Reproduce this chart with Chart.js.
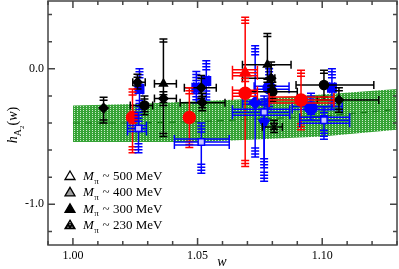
<!DOCTYPE html>
<html><head><meta charset="utf-8">
<script src="https://cdn.jsdelivr.net/npm/chart.js@4/dist/chart.umd.min.js"></script>
<style>html,body{margin:0;padding:0;background:#fff}</style>
</head><body>
<canvas id="c" width="399" height="269"></canvas>
<script>
// ---- tick labels ----
const xTickLabels = [1.00, 1.05, 1.10];
const yTickLabels = [0.0, -1.0];
const legendLabels = ['~ 500 MeV', '~ 400 MeV', '~ 300 MeV', '~ 230 MeV'];

// ---- fit band ----
const bandW   = [1.00, 1.025, 1.05, 1.075, 1.10, 1.13];
const bandHi  = [-0.27, -0.26, -0.24, -0.22, -0.19, -0.15];
const bandMid = [-0.40, -0.40, -0.39, -0.37, -0.35, -0.30];
const bandLo  = [-0.54, -0.54, -0.54, -0.52, -0.50, -0.45];

// ---- black series ----
const blackW   = [1.0123, 1.0363, 1.0363, 1.0259, 1.0287, 1.0515, 1.0519, 1.0780, 1.0795, 1.0800, 1.1007, 1.1067, 1.0807];
const blackH   = [-0.29, -0.11, -0.22, -0.10, -0.27, -0.14, -0.25, 0.03, -0.07, -0.17, -0.12, -0.23, -0.43];
const blackXLo = [1.0123, 1.0327, 1.0327, 1.0240, 1.0230, 1.0447, 1.0430, 1.0680, 1.0680, 1.0700, 1.0895, 1.0980, 1.0760];
const blackXHi = [1.0123, 1.0415, 1.0415, 1.0290, 1.0320, 1.0575, 1.0610, 1.0875, 1.0810, 1.0900, 1.1207, 1.1227, 1.0840];
const blackYLo = [-0.40, -0.50, -0.27, -0.15, -0.34, -0.24, -0.31, -0.10, -0.15, -0.24, -0.23, -0.32, -0.47];
const blackYHi = [-0.21, 0.22, -0.17, -0.04, -0.20, -0.05, -0.18, 0.26, 0.05, -0.10, -0.01, -0.14, -0.38];
const blackShape = ['rectRot','triangle','rectRot','rectRot','circle','rectRot','rectRot','triangle','rectRot','circle','circle','rectRot','crossRot'];

// ---- blue series ----
const blueW   = [1.0267, 1.0535, 1.0495, 1.0787, 1.0731, 1.1039, 1.0955, 1.0767];
const blueH   = [-0.15, -0.09, -0.14, -0.14, -0.25, -0.14, -0.29, -0.40];
const blueXLo = [1.0255, 1.0525, 1.0485, 1.0727, 1.0680, 1.1030, 1.0880, 1.0767];
const blueXHi = [1.0280, 1.0545, 1.0505, 1.0867, 1.0780, 1.1050, 1.1080, 1.0767];
const blueYLo = [-0.30, -0.23, -0.25, -0.30, -0.65, -0.30, -0.38, -0.83];
const blueYHi = [0.00, 0.06, -0.02, 0.00, 0.17, 0.00, -0.18, -0.30];
const blueShape = ['rect','rect','rect','circle','rectRot','rect','circle','triangle'];
const blueRot   = [0, 0, 0, 0, 0, 0, 0, 180];

// ---- light (open) blue squares ----
const lightW   = [1.0263, 1.0515, 1.0767, 1.1007];
const lightH   = [-0.44, -0.54, -0.32, -0.38];
const lightXLo = [1.0219, 1.0407, 1.0640, 1.0910];
const lightXHi = [1.0295, 1.0627, 1.0870, 1.1110];
const lightYLo = [-0.62, -0.77, -0.73, -0.52];
const lightYHi = [-0.32, -0.40, -0.20, -0.28];

// ---- red series ----
const redW   = [1.0239, 1.0467, 1.0691, 1.0691, 1.0915];
const redH   = [-0.36, -0.36, -0.03, -0.18, -0.23];
const redXLo = [1.0230, 1.0467, 1.0640, 1.0640, 1.0787];
const redXHi = [1.0250, 1.0467, 1.0740, 1.0740, 1.1047];
const redYLo = [-0.62, -0.58, -0.20, -0.72, -0.45];
const redYHi = [-0.15, -0.14, 0.38, -0.05, -0.01];
const redShape = ['circle','circle','triangle','circle','circle'];

const SERIF = '"Liberation Serif", "DejaVu Serif", serif';

function pts(W, H) { return W.map((w, i) => ({ x: w, y: H[i] })); }

// band pattern
function makePattern() {
  const pc = document.createElement('canvas');
  pc.width = 3; pc.height = 2;
  const p = pc.getContext('2d');
  p.fillStyle = '#36a336'; p.fillRect(0, 0, 3, 2);
  p.fillStyle = '#c8ebc8'; p.fillRect(2, 0, 1, 1);
  return document.getElementById('c').getContext('2d').createPattern(pc, 'repeat');
}

function series(label, W, H, XL, XH, YL, YH, color, fill, shape, radius, rot, caps, hLines) {
  return {
    type: 'scatter', label, data: pts(W, H),
    backgroundColor: fill, borderColor: color, borderWidth: 1.5,
    pointStyle: shape, pointRadius: radius, pointRotation: rot || 0,
    xLo: XL, xHi: XH, yLo: YL, yHi: YH, errColor: color, caps, hLines, order: 1
  };
}

const datasets = [
  { type: 'line', label: 'bandHi', data: pts(bandW, bandHi), borderWidth: 0, pointRadius: 0,
    fill: '+1', backgroundColor: makePattern(), order: 10 },
  { type: 'line', label: 'bandLo', data: pts(bandW, bandLo), borderWidth: 0, pointRadius: 0, fill: false, order: 10 },
  { type: 'line', label: 'bandMid', data: pts(bandW, bandMid), borderWidth: 1.2, borderColor: '#177a17',
    borderDash: [7, 5], pointRadius: 0, fill: false, order: 9 },
  series('light', lightW, lightH, lightXLo, lightXHi, lightYLo, lightYHi, '#0000ff', '#c4c4ff', 'rect', 4.5, 0, 4, 3),
  series('red', redW, redH, redXLo, redXHi, redYLo, redYHi, '#ff0000', '#ff0000', redShape, 6, 0, 3, 3),
  series('black', blackW, blackH, blackXLo, blackXHi, blackYLo, blackYHi, '#000000', '#000000', blackShape, 4.5, 0, 2, 1),
  series('blue', blueW, blueH, blueXLo, blueXHi, blueYLo, blueYHi, '#0000ff', '#0000ff', blueShape, 6, blueRot, 4, 2),
];

const errPlugin = {
  id: 'err',
  beforeDatasetDraw(chart, args) {
    const ds = chart.data.datasets[args.index];
    if (!ds.xLo) return;
    const { ctx, scales: { x, y } } = chart;
    ctx.save();
    ctx.strokeStyle = ds.errColor; ctx.lineWidth = 1.5;
    ds.data.forEach((p, i) => {
      const px = x.getPixelForValue(p.x), py = y.getPixelForValue(p.y);
      const x0 = x.getPixelForValue(ds.xLo[i]), x1 = x.getPixelForValue(ds.xHi[i]);
      const y0 = y.getPixelForValue(ds.yLo[i]), y1 = y.getPixelForValue(ds.yHi[i]);
      ctx.beginPath();
      ctx.moveTo(px, y0); ctx.lineTo(px, y1);
      for (let k = 0; k < ds.caps; k++) {
        const yb = y0 - k * 3, yt = y1 + k * 3;
        if (yb > py + 2) { ctx.moveTo(px - 4, yb); ctx.lineTo(px + 4, yb); }
        if (yt < py - 2) { ctx.moveTo(px - 4, yt); ctx.lineTo(px + 4, yt); }
      }
      if (x1 - x0 > 2) {
        for (let k = 0; k < ds.hLines; k++) {
          const off = (k - (ds.hLines - 1) / 2) * 3;
          ctx.moveTo(x0, py + off); ctx.lineTo(x1, py + off);
        }
        const hh = 4 + (ds.hLines - 1) * 1.5;
        ctx.moveTo(x0, py - hh); ctx.lineTo(x0, py + hh);
        ctx.moveTo(x1, py - hh); ctx.lineTo(x1, py + hh);
      }
      ctx.stroke();
    });
    ctx.restore();
  }
};

const framePlugin = {
  id: 'frame',
  afterDatasetsDraw(chart) {
    const { ctx, chartArea: a, scales: { x, y } } = chart;
    ctx.save();
    ctx.strokeStyle = '#444'; ctx.lineWidth = 1.5;
    ctx.strokeRect(a.left, a.top, a.right - a.left, a.bottom - a.top);
    ctx.beginPath();
    for (let k = 99; k <= 113; k++) {
      const v = k / 100, px = x.getPixelForValue(v);
      const len = (k % 5 === 0) ? 7 : 4;
      ctx.moveTo(px, a.bottom); ctx.lineTo(px, a.bottom - len);
      ctx.moveTo(px, a.top); ctx.lineTo(px, a.top + len);
    }
    for (let k = -6; k <= 2; k++) {
      const v = k / 5, py = y.getPixelForValue(v);
      const len = (k % 5 === 0) ? 7 : 4;
      ctx.moveTo(a.left, py); ctx.lineTo(a.left + len, py);
      ctx.moveTo(a.right, py); ctx.lineTo(a.right - len, py);
    }
    ctx.stroke();

    // axis titles
    ctx.fillStyle = '#000';
    ctx.textBaseline = 'alphabetic';
    ctx.font = 'italic 14px ' + SERIF;
    ctx.textAlign = 'center';
    ctx.fillText('w', 222, 266);

    ctx.save();
    ctx.translate(17, 125);
    ctx.rotate(-Math.PI / 2);
    ctx.textAlign = 'left';
    const parts = [
      ['h', 'italic 14px ', 0], ['A', '10px ', 4], ['2', '7px ', 7],
      ['(', '14px ', 0], ['w', 'italic 14px ', 0], [')', '14px ', 0]
    ];
    let tot = 0;
    parts.forEach(p => { ctx.font = p[1] + SERIF; tot += ctx.measureText(p[0]).width; });
    let cx = -tot / 2;
    parts.forEach(p => { ctx.font = p[1] + SERIF; ctx.fillText(p[0], cx, p[2]); cx += ctx.measureText(p[0]).width; });
    ctx.restore();

    // legend
    legendLabels.forEach((lab, i) => {
      const cy = 175.5 + i * 16.4;
      const tx = 70;
      ctx.beginPath();
      ctx.moveTo(tx, cy - 4.5); ctx.lineTo(tx + 5, cy + 4); ctx.lineTo(tx - 5, cy + 4); ctx.closePath();
      ctx.lineWidth = 1.3; ctx.strokeStyle = '#000';
      ctx.fillStyle = ['#ffffff', '#a0a0a0', '#000000', '#000000'][i];
      ctx.fill(); ctx.stroke();
      if (i === 3) {
        ctx.fillStyle = '#fff';
        [[tx, cy], [tx - 2, cy + 2.5], [tx + 2, cy + 2.5], [tx, cy - 2]].forEach(d => ctx.fillRect(d[0] - 0.5, d[1] - 0.5, 1, 1));
      }
      ctx.fillStyle = '#000';
      ctx.textAlign = 'left';
      ctx.font = 'italic 13px ' + SERIF;
      ctx.fillText('M', 83, cy + 4.5);
      const mw = ctx.measureText('M').width;
      ctx.font = '9px ' + SERIF;
      ctx.fillText('π', 83 + mw + 0.5, cy + 8);
      const pw = ctx.measureText('π').width;
      ctx.font = '13px ' + SERIF;
      ctx.fillText(' ' + lab, 83 + mw + pw + 1, cy + 4.5);
    });
    ctx.restore();
  }
};

function zeroPad(s) { s.paddingTop = 0; s.paddingBottom = 0; s.paddingLeft = 0; s.paddingRight = 0; }

new Chart(document.getElementById('c'), {
  data: { datasets },
  options: {
    responsive: false, animation: false, devicePixelRatio: 1,
    layout: { autoPadding: false, padding: { top: 1, right: 2, left: 0, bottom: 0 } },
    plugins: { legend: { display: false }, tooltip: { enabled: false } },
    scales: {
      x: {
        type: 'linear', min: 0.99, max: 1.13,
        grid: { display: false, drawTicks: false }, border: { display: false },
        ticks: {
          autoSkip: false, maxRotation: 0, padding: 4,
          color: '#000', font: { family: SERIF, size: 12 },
          callback: v => v.toFixed(2)
        },
        afterBuildTicks: s => { s.ticks = xTickLabels.map(v => ({ value: v })); },
        afterFit: s => { s.height = 24; zeroPad(s); }
      },
      y: {
        type: 'linear', min: -1.3, max: 0.5,
        grid: { display: false, drawTicks: false }, border: { display: false },
        ticks: {
          autoSkip: false, padding: 4,
          color: '#000', font: { family: SERIF, size: 12 },
          callback: v => v.toFixed(1)
        },
        afterBuildTicks: s => { s.ticks = yTickLabels.map(v => ({ value: v })); },
        afterFit: s => { s.width = 48; zeroPad(s); }
      }
    }
  },
  plugins: [errPlugin, framePlugin]
});
</script>
</body></html>
